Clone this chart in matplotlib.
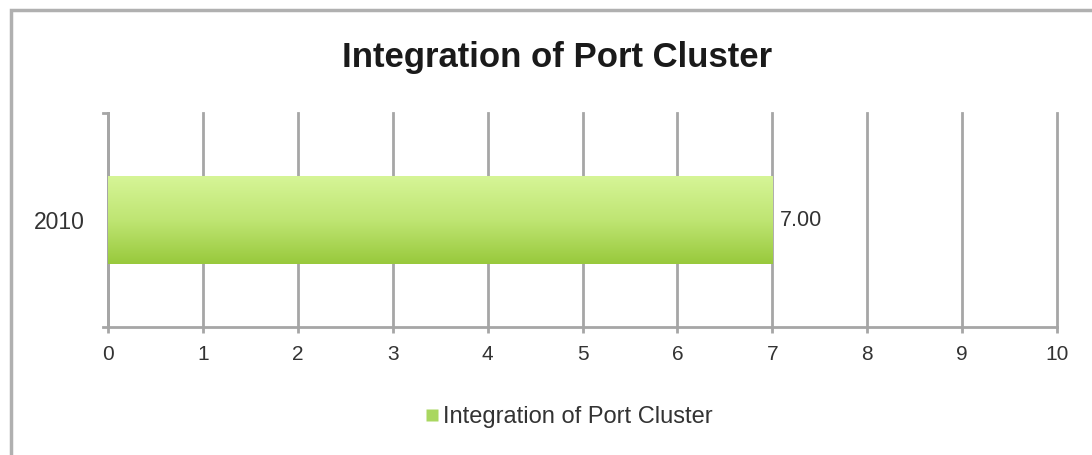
import numpy as np
import matplotlib
matplotlib.use("Agg")
import matplotlib.pyplot as plt
from matplotlib.patches import Rectangle
from matplotlib.lines import Line2D
from matplotlib.colors import LinearSegmentedColormap

# data
categories = ["2010"]
values = [7.00]
series_name = "Integration of Port Cluster"
title = "Integration of Port Cluster"
x_ticks = list(range(0, 11))

plt.rcParams['font.family'] = ['Liberation Sans', 'DejaVu Sans']

fig = plt.figure(figsize=(10.92, 4.55), dpi=100)
ax = fig.add_axes([108 / 1092, 1 - 327 / 455, (1057 - 108) / 1092, (327 - 113) / 455])

grid_color = "#a6a6a6"
text_color = "#333333"

# outer frame (runs off the right and bottom edges like the source)
frame = Rectangle((11 / 1092, -0.1), 1.2, 1 - 10 / 455 + 0.1, transform=fig.transFigure,
                  fill=False, edgecolor="#b0b0b0", linewidth=2.5, clip_on=False)
fig.patches.append(frame)

ypos = np.arange(len(categories))
bars = ax.barh(ypos, values, height=0.41, color="#b2de5e", edgecolor="none", zorder=3)

# vertical gradient on the bar (light at top, darker at bottom)
cmap = LinearSegmentedColormap.from_list("g", ["#d6f597", "#bfe573", "#98c93c"])
grad = np.linspace(0, 1, 256).reshape(-1, 1)
for b, v in zip(bars, values):
    x0, y0 = b.get_x(), b.get_y()
    w, h = b.get_width(), b.get_height()
    im = ax.imshow(grad, extent=[x0, x0 + w, y0 + h, y0], aspect="auto", cmap=cmap,
                   origin="upper", zorder=4)
    im.set_clip_path(b)
    ax.text(x0 + w + 0.08, y0 + h / 2, f"{v:.2f}", va="center", ha="left",
            fontsize=15.5, color=text_color)

ax.set_xlim(0, 10)
ax.set_ylim(-0.5, 0.5)
ax.invert_yaxis()
ax.set_xticks(x_ticks)
ax.set_xticklabels([str(t) for t in x_ticks], fontsize=15, color=text_color)
ax.set_yticks(ypos)
ax.set_yticklabels(categories, fontsize=16.5, color=text_color)
ax.xaxis.grid(True, color=grid_color, linewidth=2)
for gl in ax.get_xgridlines():
    gl.set_clip_on(False)
ax.set_axisbelow(True)
for s in ["top", "right"]:
    ax.spines[s].set_visible(False)
for s in ["left", "bottom"]:
    ax.spines[s].set_color(grid_color)
    ax.spines[s].set_linewidth(2)
ax.tick_params(axis="x", length=4, width=2, color=grid_color, pad=9)
ax.tick_params(axis="y", length=0, pad=17)
# small tick marks at the ends of the category axis
ax.plot([-0.05, 0], [-0.5, -0.5], color=grid_color, lw=2, clip_on=False)
ax.plot([-0.05, 0], [0.5, 0.5], color=grid_color, lw=2, clip_on=False)

fig.text(557 / 1092, 1 - 57 / 455, title, ha="center", va="center",
         fontsize=25, fontweight="bold", color="#1a1a1a")

handle = Line2D([], [], marker="s", linestyle="none", markersize=8,
                markerfacecolor="#a9d760", markeredgecolor="none")
fig.legend([handle], [series_name], loc="center", bbox_to_anchor=(567 / 1092, 1 - 417 / 455),
           frameon=False, fontsize=17, handletextpad=0.0, handlelength=0.9,
           labelcolor=text_color)

fig.savefig("out.png", dpi=100)
